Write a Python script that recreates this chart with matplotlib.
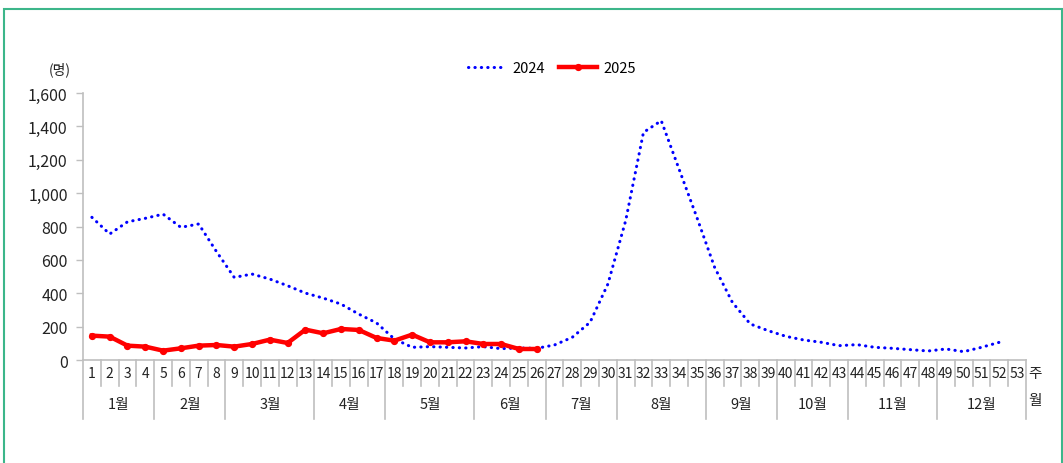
import numpy as np
import matplotlib
matplotlib.use("Agg")
import matplotlib.pyplot as plt
from matplotlib.patches import Rectangle
from matplotlib.ticker import FuncFormatter

plt.rcParams['font.family'] = ['Noto Sans CJK KR', 'DejaVu Sans']

weeks = list(range(1, 54))
cases_2024 = [855, 755, 828, 849, 874, 795, 815, 650, 495, 515, 485, 445, 401,
              371, 335, 275, 222, 126, 76, 80, 76, 72, 80, 68, 72, 70, 90, 136,
              226, 455, 835, 1364, 1434, 1144, 855, 555, 345, 216, 176, 142,
              120, 106, 86, 92, 76, 70, 62, 54, 66, 50, 76, 106]
cases_2025 = [146, 140, 86, 80, 56, 70, 86, 90, 80, 96, 122, 102, 182, 160,
              186, 180, 132, 116, 152, 106, 106, 112, 96, 96, 66, 66]
month_labels = ['1월', '2월', '3월', '4월', '5월', '6월', '7월', '8월', '9월',
                '10월', '11월', '12월']
month_weeks = [4, 4, 5, 4, 5, 4, 4, 5, 4, 4, 5, 5]

fig = plt.figure(figsize=(10.63, 4.64), dpi=100)
ax = fig.add_axes([83 / 1063, 1 - 361 / 464, (1026 - 83) / 1063, 267 / 464])

ax.plot(weeks[:len(cases_2024)], cases_2024, color='#0000ff', lw=2.2,
        linestyle=(0, (0.1, 2.0)), dash_capstyle='round', label='2024')
ax.plot(weeks[:len(cases_2025)], cases_2025, color='#ff0000', lw=3.2,
        marker='o', markersize=4.2, label='2025')

ax.set_xlim(0.5, 53.5)
ax.set_ylim(0, 1600)
ax.set_yticks(np.arange(0, 1601, 200))
ax.yaxis.set_major_formatter(FuncFormatter(lambda v, p: '{:,.0f}'.format(v)))
ax.tick_params(axis='y', labelsize=11.5, colors='#bfbfbf', labelcolor='#222222',
               length=5, width=1, direction='out', pad=6)
ax.set_xticks([])
for s in ['top', 'right']:
    ax.spines[s].set_visible(False)
for s in ['left', 'bottom']:
    ax.spines[s].set_color('#bfbfbf')
    ax.spines[s].set_linewidth(1.2)

# category table under the axis
tr = ax.get_xaxis_transform()
week_bottom = -26 / 267
month_bottom = -59 / 267
month_edges = np.cumsum([0] + month_weeks) + 0.5
for b in np.arange(0.5, 54, 1.0):
    low = month_bottom if b in month_edges else week_bottom
    ax.plot([b, b], [0, low], transform=tr, color='#bfbfbf', lw=1.2, clip_on=False)
for w in weeks:
    ax.text(w, -13 / 267, str(w), transform=tr, ha='center', va='center',
            fontsize=10, color='#222222')
for i, lab in enumerate(month_labels):
    c = (month_edges[i] + month_edges[i + 1]) / 2
    ax.text(c, -44 / 267, lab, transform=tr, ha='center', va='center',
            fontsize=10.5, color='#222222')
ax.text(54.0, -13 / 267, '주', transform=tr, ha='center', va='center',
        fontsize=10.5, color='#222222')
ax.text(54.0, -40 / 267, '월', transform=tr, ha='center', va='center',
        fontsize=10.5, color='#222222')

fig.text(60 / 1063, 1 - 70 / 464, '(명)', ha='center', va='center',
         fontsize=10, color='#222222')

leg = fig.legend(loc='center', bbox_to_anchor=(552 / 1063, 1 - 69 / 464), ncol=2,
                 frameon=False, fontsize=10.5, handlelength=2.6, columnspacing=1.0,
                 handletextpad=0.4)

fig.patches.append(Rectangle((4 / 1063, -0.1), 1058 / 1063, 1.1 - 9.5 / 464,
                             transform=fig.transFigure, fill=False,
                             edgecolor='#3cb68a', lw=1.5))

fig.savefig('out.png', dpi=100)
